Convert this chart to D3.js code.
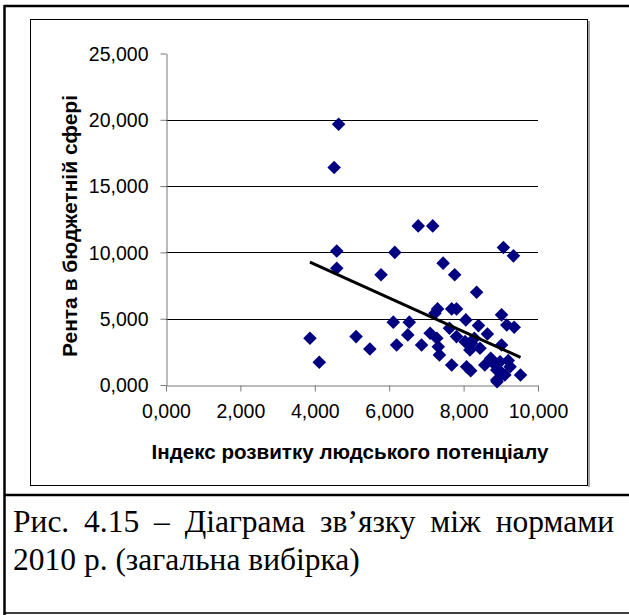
<!DOCTYPE html>
<html><head><meta charset="utf-8">
<script src="https://cdn.jsdelivr.net/npm/d3@7"></script>
<style>body{margin:0;background:#fff}</style></head>
<body>
<svg id="c" width="629" height="615"></svg>
<script>
// ---- data ----
const xValues = [4.64,4.52,6.78,7.17,4.59,6.15,9.07,9.34,4.59,7.45,5.78,7.76,8.35,7.30,7.23,7.68,7.81,6.11,6.54,8.06,8.40,9.02,9.16,9.36,3.87,5.11,6.50,7.10,7.28,7.62,7.81,8.04,8.64,8.29,6.20,6.87,7.32,5.48,8.17,8.44,9.02,7.35,4.12,7.68,8.08,8.19,8.73,8.80,8.98,9.20,9.25,8.89,9.11,8.89,9.53,8.57,9.03,8.21,8.90];
const yValues = [19.66,16.4,12.0,12.0,10.1,10.0,10.37,9.74,8.81,9.19,8.31,8.31,7.0,5.74,5.42,5.74,5.74,4.74,4.74,4.91,4.48,5.29,4.53,4.36,3.53,3.65,3.78,3.90,3.53,4.28,3.65,3.27,3.85,3.53,3.02,3.02,2.89,2.72,2.64,2.77,3.02,2.27,1.71,1.51,1.38,1.08,2.02,1.64,1.76,1.84,1.38,1.13,0.76,0.38,0.76,1.51,0.91,3.15,0.25];
const trendX = [3.87, 9.53];
const trendY = [9.27, 2.09];
const xTicks = [0,2,4,6,8,10];
const yTicks = [0,5,10,15,20,25];
const xTitle = "Індекс розвитку людського потенціалу";
const yTitle = "Рента в бюджетній сфері";
const captionLine1 = ["Рис.","4.15","–","Діаграма","зв’язку","між","нормами"];
const captionLine2 = "2010 р. (загальна вибірка)";

const svg = d3.select("#c");
const fmt = v => d3.format(".3f")(v).replace(".", ",");

// frames
svg.append("line").attr("x1",4.5).attr("x2",4.5).attr("y1",5).attr("y2",615).attr("stroke","#000").attr("stroke-width",2.5);
svg.append("line").attr("x1",4).attr("x2",629).attr("y1",6).attr("y2",6).attr("stroke","#000").attr("stroke-width",2.5);
svg.append("line").attr("x1",4).attr("x2",629).attr("y1",495).attr("y2",495).attr("stroke","#000").attr("stroke-width",2.5);
svg.append("line").attr("x1",4).attr("x2",629).attr("y1",613).attr("y2",613).attr("stroke","#000").attr("stroke-width",1.5);
svg.append("rect").attr("x",30.5).attr("y",19.5).attr("width",557).attr("height",466)
  .attr("fill","none").attr("stroke","#000").attr("stroke-width",1);
svg.append("line").attr("x1",589).attr("x2",589).attr("y1",21).attr("y2",487).attr("stroke","#888").attr("stroke-width",1.5);

const x = d3.scaleLinear().domain([0,10]).range([166,538]);
const y = d3.scaleLinear().domain([0,25]).range([385,53.5]);

// gridlines
svg.append("g").selectAll("line").data(yTicks.filter(d=>d>0 && d<25)).join("line")
  .attr("x1",x(0)).attr("x2",x(10))
  .attr("y1",d=>Math.round(y(d))+0.5).attr("y2",d=>Math.round(y(d))+0.5)
  .attr("stroke","#000").attr("stroke-width",1);

// axes
const gy = svg.append("g").attr("transform",`translate(${x(0)+0.5},0)`)
  .call(d3.axisLeft(y).tickValues(yTicks).tickFormat(fmt).tickSize(6).tickSizeOuter(0).tickPadding(12));
const gx = svg.append("g").attr("transform",`translate(0,${y(0)+0.5})`)
  .call(d3.axisBottom(x).tickValues(xTicks).tickFormat(fmt).tickSize(6).tickSizeOuter(0).tickPadding(13));
[gx,gy].forEach(g=>{
  g.select(".domain").attr("stroke","#777");
  g.selectAll(".tick line").attr("stroke","#777");
  g.selectAll("text").attr("font-family","Liberation Sans, Arial, sans-serif").attr("font-size",19.5).attr("fill","#000");
});
gy.selectAll(".tick text").attr("dy","0.35em");

// points
const pts = xValues.map((v,i)=>[v,yValues[i]]);
svg.append("g").selectAll("path").data(pts).join("path")
  .attr("d", d3.symbol(d3.symbolSquare, 92)())
  .attr("transform", d=>`translate(${x(d[0])},${y(d[1])}) rotate(45)`)
  .attr("fill","#000080");

// trend line
svg.append("line")
  .attr("x1",x(trendX[0])).attr("y1",y(trendY[0]))
  .attr("x2",x(trendX[1])).attr("y2",y(trendY[1]))
  .attr("stroke","#000").attr("stroke-width",3);

// titles
svg.append("text").attr("x",350).attr("y",459).attr("text-anchor","middle")
  .attr("font-family","Liberation Sans, Arial, sans-serif").attr("font-weight","bold").attr("font-size",20.6)
  .text(xTitle);
svg.append("text").attr("transform","translate(77,226) rotate(-90)").attr("text-anchor","middle")
  .attr("font-family","Liberation Sans, Arial, sans-serif").attr("font-weight","bold").attr("font-size",21)
  .text(yTitle);

// caption, justified line 1
const capFont = {family:"Liberation Serif, Times New Roman, serif", size:31.5};
const left = 13, right = 614;
const words = svg.append("g").selectAll("text").data(captionLine1).join("text")
  .attr("y",532).attr("font-family",capFont.family).attr("font-size",capFont.size).text(d=>d);
const widths = []; words.each(function(){widths.push(this.getComputedTextLength());});
const total = d3.sum(widths);
const gap = (right-left-total)/(captionLine1.length-1);
let cx = left;
words.attr("x",(d,i)=>{const p=cx; cx+=widths[i]+gap; return p;});
svg.append("text").attr("x",left).attr("y",570).attr("font-family",capFont.family).attr("font-size",capFont.size)
  .text(captionLine2);
</script>
</body></html>
